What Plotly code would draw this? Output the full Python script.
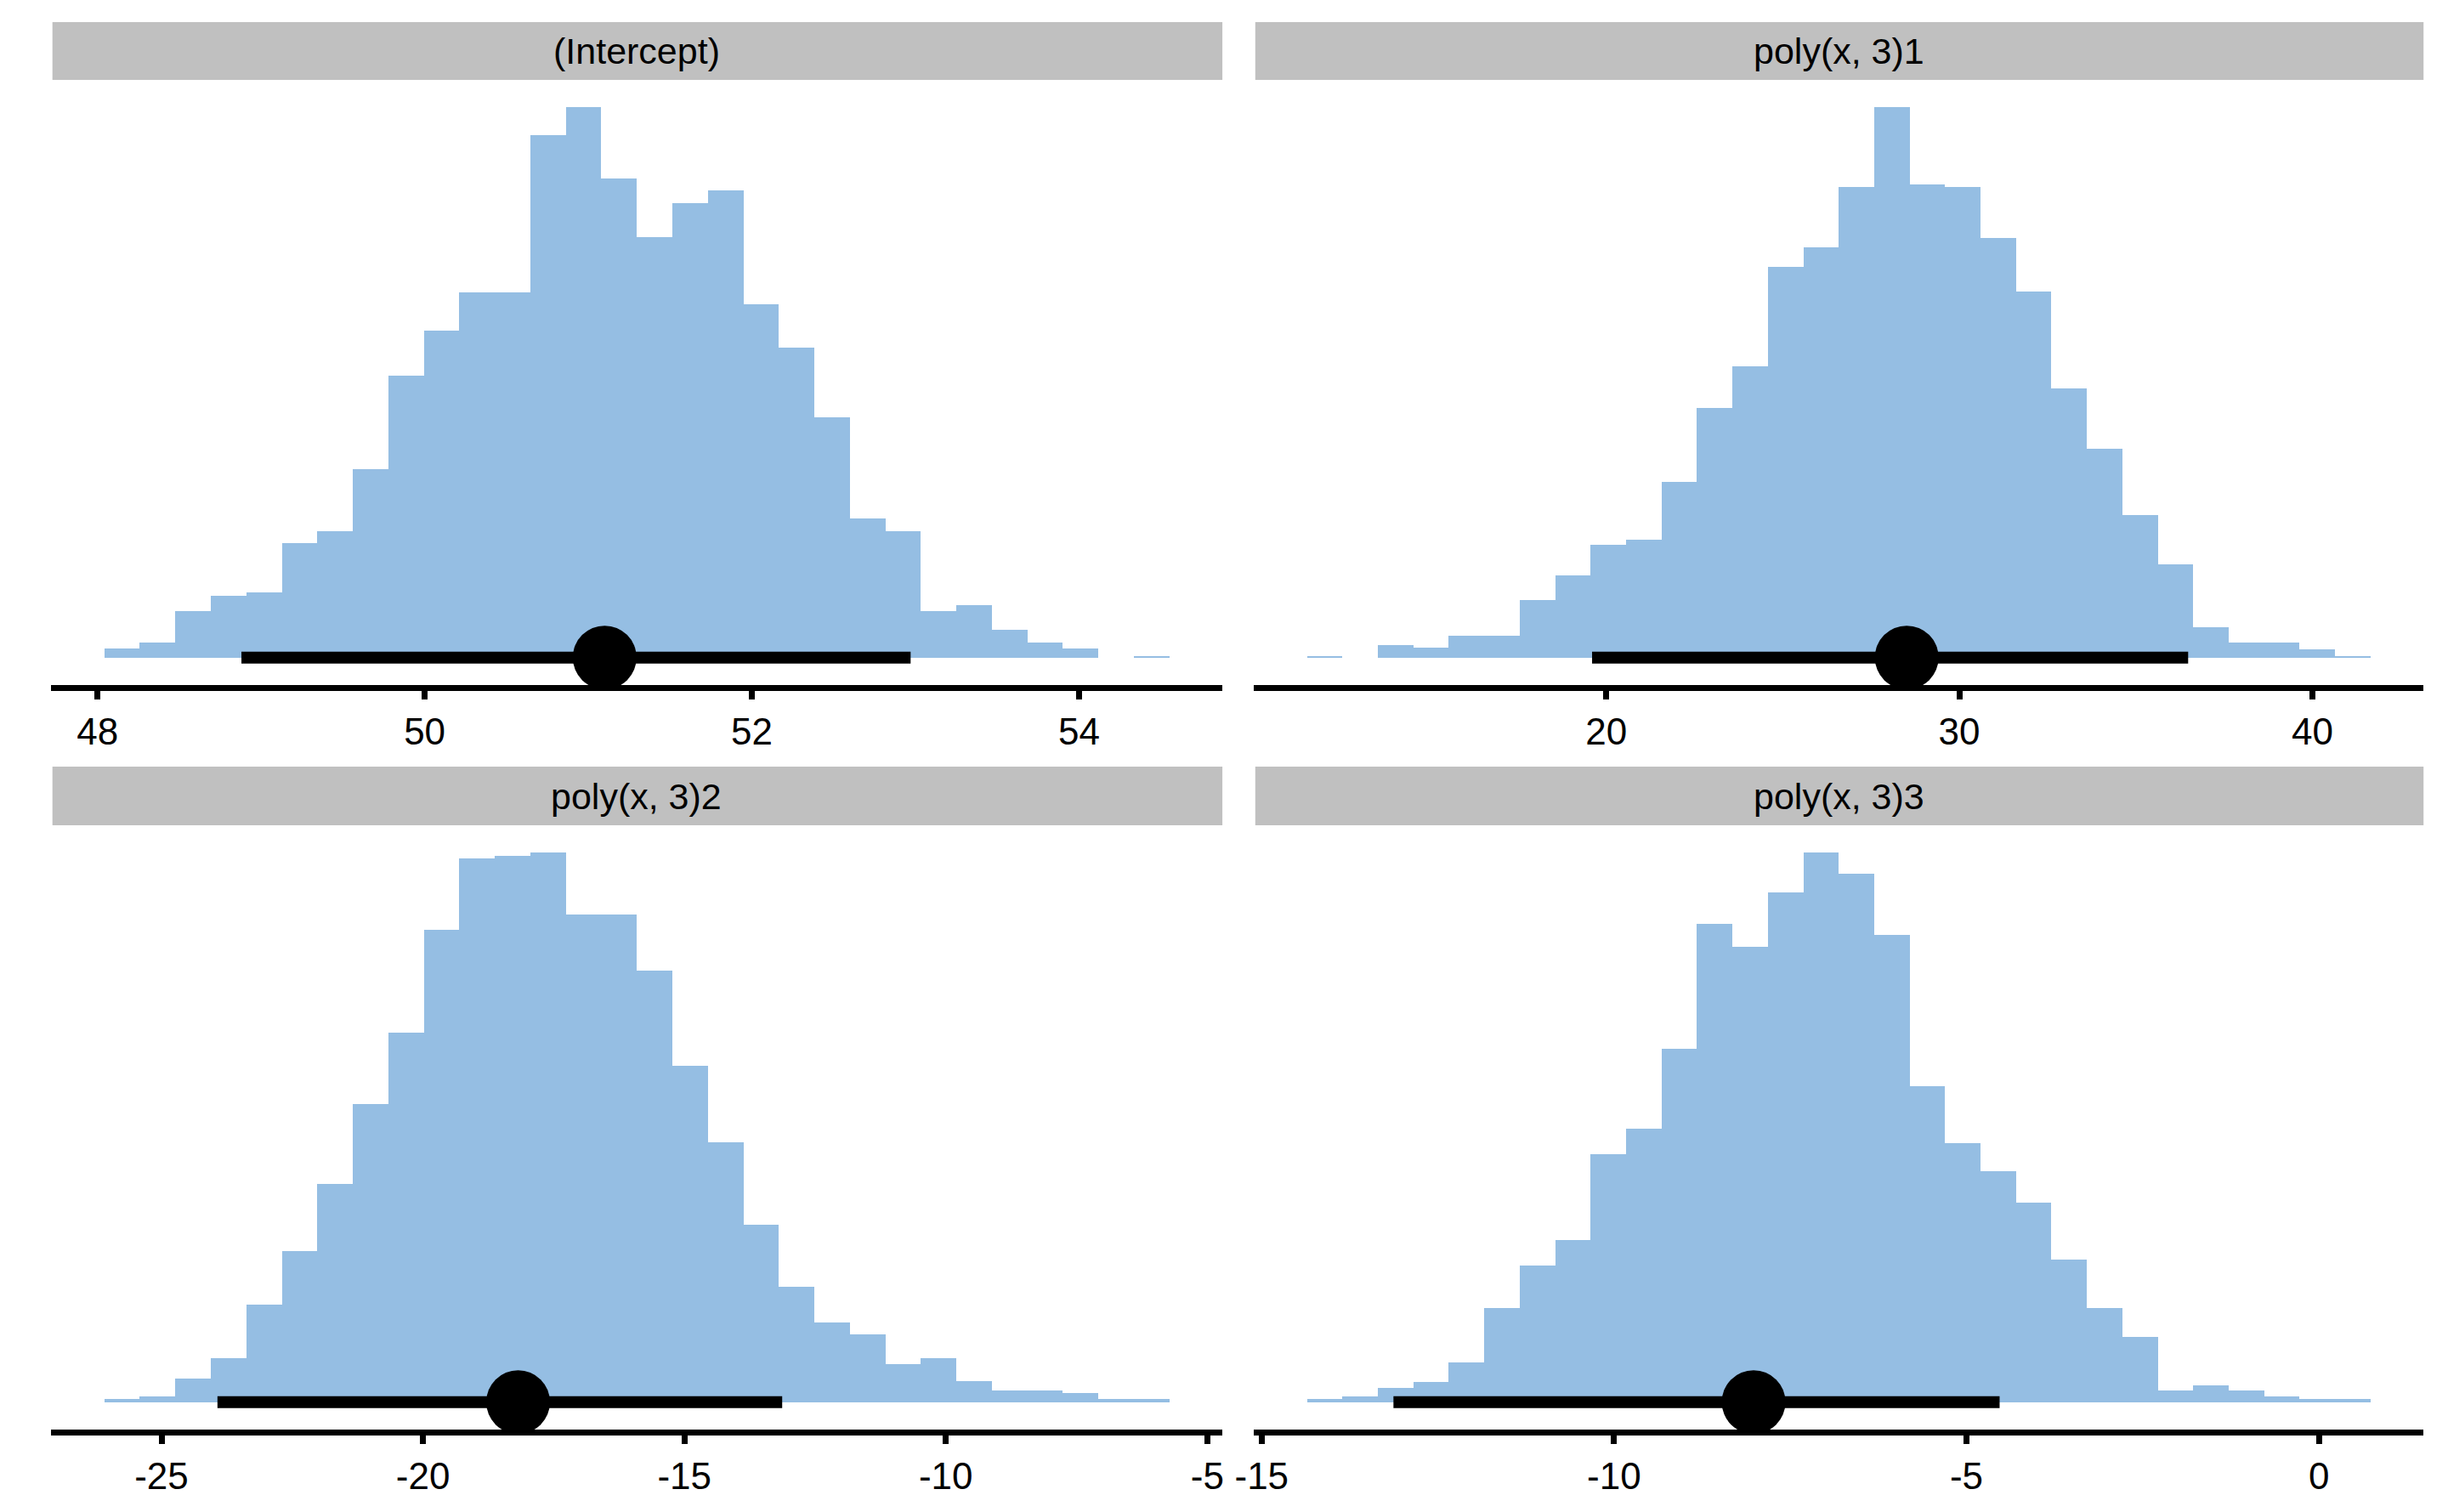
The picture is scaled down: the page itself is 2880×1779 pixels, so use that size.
import plotly.graph_objects as go

# facet labels
panel_names = ["(Intercept)", "poly(x, 3)1", "poly(x, 3)2", "poly(x, 3)3"]

# histogram bins: left edge of first bin, bin width, counts (30 bins each)
intercept_start = 48.04
intercept_width = 0.217
intercept_counts = [6, 10, 30, 40, 42, 74, 82, 122, 183, 212, 237, 237, 339, 357, 311,
                    273, 295, 303, 229, 201, 156, 90, 82, 30, 34, 18, 10, 6, 0, 1]

poly1_start = 11.52
poly1_width = 1.004
poly1_counts = [1, 0, 9, 7, 16, 16, 42, 60, 82, 86, 128, 182, 212, 285, 299,
                343, 401, 345, 343, 306, 267, 196, 152, 104, 68, 22, 11, 11, 6, 1]

poly2_start = -26.10
poly2_width = 0.679
poly2_counts = [2, 4, 16, 30, 66, 102, 148, 202, 250, 320, 368, 370, 372, 330, 330,
                292, 228, 176, 120, 78, 54, 46, 26, 30, 14, 8, 8, 6, 2, 2]

poly3_start = -14.36
poly3_width = 0.503
poly3_counts = [2, 4, 10, 14, 28, 66, 96, 114, 174, 192, 248, 336, 320, 358, 386,
                371, 328, 222, 182, 162, 140, 100, 66, 46, 8, 12, 8, 4, 2, 2]

# point (median) and interval
medians = [51.10, 28.51, -18.18, -8.02]
interval_lo = [48.88, 19.60, -23.93, -13.13]
interval_hi = [52.97, 36.48, -13.13, -4.53]

# tick values per panel
intercept_ticks = [48, 50, 52, 54]
poly1_ticks = [20, 30, 40]
poly2_ticks = [-25, -20, -15, -10, -5]
poly3_ticks = [-15, -10, -5, 0]

starts = [intercept_start, poly1_start, poly2_start, poly3_start]
widths = [intercept_width, poly1_width, poly2_width, poly3_width]
counts = [intercept_counts, poly1_counts, poly2_counts, poly3_counts]
ticks = [intercept_ticks, poly1_ticks, poly2_ticks, poly3_ticks]

W, H = 2880, 1779
bar_color = "#95bee3"
strip_color = "#c0c0c0"
font_family = "Liberation Sans, Arial, sans-serif"

# pixel layout of the panels (left, right, top, bottom) and strips
cols = [(38, 1428), (1465, 2853)]
rows = [(94, 806), (971, 1682)]
strips = [(26, 94), (902, 971)]

fig = go.Figure()

for i in range(4):
    r, c = divmod(i, 2)
    ax = "" if i == 0 else str(i + 1)
    n = len(counts[i])
    centers = [starts[i] + (k + 0.5) * widths[i] for k in range(n)]

    fig.add_bar(x=centers, y=counts[i], width=[widths[i]] * n,
                marker_color=bar_color, marker_line_width=0,
                xaxis="x" + ax, yaxis="y" + ax, showlegend=False, hoverinfo="skip")
    fig.add_scatter(x=[interval_lo[i], interval_hi[i]], y=[0, 0], mode="lines",
                    line=dict(color="black", width=14),
                    xaxis="x" + ax, yaxis="y" + ax, showlegend=False)
    fig.add_scatter(x=[medians[i]], y=[0], mode="markers",
                    marker=dict(color="black", size=75),
                    xaxis="x" + ax, yaxis="y" + ax, showlegend=False)

    lo = starts[i]
    hi = starts[i] + n * widths[i]
    pad = 0.05 * (hi - lo)
    ymax = max(counts[i])

    x0, x1 = cols[c]
    y0, y1 = rows[r]
    fig.update_layout(**{
        "xaxis" + ax: dict(
            domain=[x0 / W, x1 / W], anchor="y" + ax,
            range=[lo - pad, hi + pad],
            tickvals=ticks[i], ticktext=[str(t) for t in ticks[i]],
            showline=True, linewidth=7, linecolor="black",
            ticks="outside", ticklen=10, tickwidth=7, tickcolor="black",
            showgrid=False, zeroline=False,
            tickfont=dict(family=font_family, size=44, color="black"),
        ),
        "yaxis" + ax: dict(
            domain=[1 - y1 / H, 1 - y0 / H], anchor="x" + ax,
            range=[-0.05 * ymax, 1.05 * ymax],
            visible=False,
        ),
    })

    # facet strip
    s0, s1 = strips[r]
    fig.add_shape(type="rect", xref="paper", yref="paper",
                  x0=x0 / W + 0.0007, x1=x1 / W, y0=1 - s1 / H, y1=1 - s0 / H,
                  fillcolor=strip_color, line_width=0, layer="below")
    fig.add_annotation(text=panel_names[i], xref="paper", yref="paper",
                       x=(x0 + x1) / 2 / W, y=1 - (s0 + s1) / 2 / H,
                       showarrow=False, xanchor="center", yanchor="middle",
                       font=dict(family=font_family, size=43, color="black"))

fig.update_layout(
    width=W, height=H,
    margin=dict(l=0, r=0, t=0, b=0),
    plot_bgcolor="white", paper_bgcolor="white",
    bargap=0, barmode="overlay",
    showlegend=False,
)

# the page body has a default margin; drop it so the figure sits at the window corner
fig.write_html("out.html", config={"displayModeBar": False},
               post_script="document.body.style.margin='0';document.body.style.overflow='hidden';")
